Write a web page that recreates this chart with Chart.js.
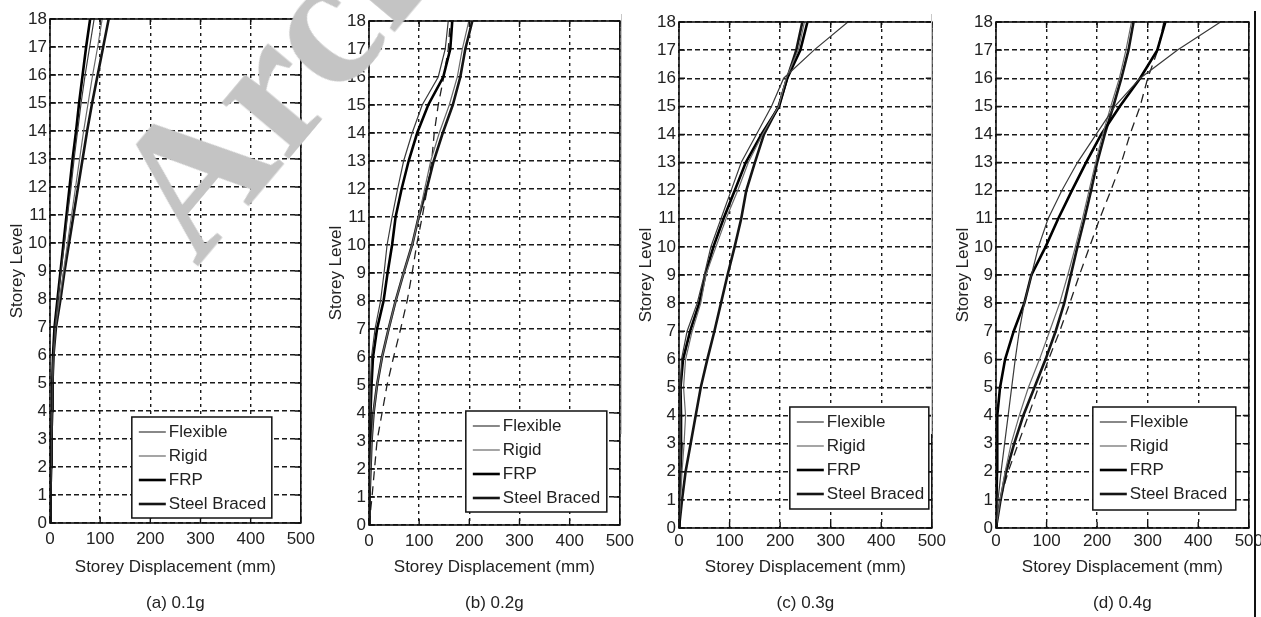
<!DOCTYPE html>
<html>
<head>
<meta charset="utf-8">
<title>Storey displacement</title>
<script src="https://cdn.jsdelivr.net/npm/chart.js@4.4.1/dist/chart.umd.min.js"></script>
<style>
  body { margin: 0; width: 1261px; height: 617px; background: #fff; position: relative; overflow: hidden; }
  canvas { position: absolute; top: 0; }
  .edge { position: absolute; background: #111; }
  .faint { position: absolute; background: #c8c8c8; width: 1px; }
  .stamp {
    position: absolute; left: 221px; top: 98px;
    font: bold 190px "Liberation Serif", "DejaVu Serif", serif;
    line-height: 1; color: #c4c4c4; white-space: nowrap;
    transform-origin: 0 100%; transform: rotate(-50deg);
  }
</style>
</head>
<body>
<canvas id="p0"></canvas>
<canvas id="p1"></canvas>
<canvas id="p2"></canvas>
<canvas id="p3"></canvas>
<div class="faint" style="left:621px; top:14px; height:420px;"></div>
<div class="faint" style="left:931px; top:14px; height:420px;"></div>
<div class="edge" style="left:1254px; top:11px; width:2px; height:606px;"></div>
<div class="stamp">Archive of SID</div>

<script>
// storey levels (y axis)
const storeys = [0, 1, 2, 3, 4, 5, 6, 7, 8, 9, 10, 11, 12, 13, 14, 15, 16, 17, 18];
const seriesNames = ["Flexible", "Rigid", "FRP", "Steel Braced"];
const captions = ["(a) 0.1g", "(b) 0.2g", "(c) 0.3g", "(d) 0.4g"];
const xMax = 500;
const yMax = 18;

// (a) 0.1g  - storey displacement in mm
const flexibleA = [0, 1, 2, 3, 4, 5, 7, 10, 16, 22, 29, 35, 42, 48, 55, 62, 70, 79, 88];
const rigidA    = [0, 1, 2, 3, 4, 5, 7, 11, 19, 27, 35, 43, 51, 59, 67, 76, 85, 95, 104];
const frpA      = [0, 1, 2, 3, 4, 5, 6, 9, 15, 21, 27, 33, 39, 45, 52, 58, 65, 72, 80];
const steelA    = [0, 1, 2, 3, 4, 5, 7, 12, 21, 29, 38, 47, 56, 65, 74, 84, 95, 106, 117];

// (b) 0.2g
const flexibleB = [0, 0, 1, 1, 2, 3, 5, 12, 23, 30, 36, 46, 57, 69, 86, 106, 138, 152, 158];
const rigidB    = [0, 1, 3, 5, 9, 16, 26, 39, 53, 69, 86, 99, 111, 123, 140, 160, 176, 186, 199];
const frpB      = [0, 0, 1, 2, 3, 5, 8, 16, 29, 37, 46, 53, 65, 79, 96, 118, 148, 162, 166];
const steelB    = [0, 1, 3, 5, 9, 16, 26, 39, 53, 69, 86, 99, 115, 129, 147, 167, 182, 192, 206];
const dashedB   = [0, 6, 11, 16, 26, 36, 49, 63, 76, 86, 95, 106, 116, 125, 130, 138, 149, 158, 162];

// (c) 0.3g
const flexibleC = [0, 1, 2, 3, 3, 3, 5, 16, 36, 50, 63, 83, 103, 123, 153, 183, 207, 267, 334];
const rigidC    = [0, 3, 6, 10, 13, 9, 13, 26, 43, 53, 73, 93, 116, 137, 165, 197, 212, 236, 248];
const frpC      = [0, 1, 3, 5, 4, 3, 8, 22, 40, 52, 68, 88, 110, 132, 163, 198, 214, 240, 254];
const steelC    = [0, 6, 13, 23, 33, 43, 56, 70, 83, 96, 110, 123, 133, 150, 168, 197, 214, 232, 244];

// (d) 0.4g
const flexibleD = [0, 4, 10, 17, 24, 31, 38, 46, 56, 70, 84, 103, 130, 161, 198, 235, 285, 359, 444];
const rigidD    = [0, 8, 18, 30, 46, 64, 86, 106, 126, 142, 157, 171, 184, 197, 211, 227, 244, 257, 268];
const frpD      = [0, 1, 2, 2, 3, 8, 18, 35, 56, 70, 98, 123, 150, 178, 208, 245, 285, 319, 335];
const steelD    = [0, 9, 20, 36, 54, 76, 98, 118, 135, 148, 161, 175, 188, 200, 215, 232, 248, 262, 272];
const dashedD   = [0, 8, 24, 44, 64, 84, 104, 126, 146, 165, 185, 205, 227, 248, 265, 285, 300, 320, 332];

const FONT = '"Liberation Sans", Arial, Helvetica, sans-serif';
Chart.defaults.font.family = FONT;
Chart.defaults.font.size = 17;
Chart.defaults.color = "#222";

const seriesStyle = [
    { color: "#3a3a3a", width: 1.2 },
    { color: "#6a6a6a", width: 1.2 },
    { color: "#000000", width: 2.6 },
    { color: "#151515", width: 2.6 }
];

// plot area of each panel, in page pixels, and its legend box
const panels = [
    { series: [flexibleA, rigidA, frpA, steelA], dashed: null,
      area: { left: 50, right: 300, top: 19, bottom: 523 },
      legend: { right: 29, bottom: 5, width: 140, height: 101 } },
    { series: [flexibleB, rigidB, frpB, steelB], dashed: dashedB,
      area: { left: 369, right: 619, top: 21, bottom: 525 },
      legend: { right: 13, bottom: 13, width: 141, height: 101 } },
    { series: [flexibleC, rigidC, frpC, steelC], dashed: null,
      area: { left: 679, right: 928, top: 22, bottom: 528 },
      legend: { right: 3, bottom: 19, width: 139, height: 102 } },
    { series: [flexibleD, rigidD, frpD, steelD], dashed: dashedD,
      area: { left: 996, right: 1245, top: 22, bottom: 528 },
      legend: { right: 13, bottom: 18, width: 143, height: 103 } }
];

function toPoints(values) {
    return values.map((v, i) => ({ x: v, y: storeys[i] }));
}

// box round the plot with small inward ticks (MATLAB look)
const frame = {
    id: "frame",
    afterDatasetsDraw(chart) {
        const { ctx, chartArea: a, scales } = chart;
        ctx.save();
        ctx.strokeStyle = "#111";
        ctx.lineWidth = 1.6;
        ctx.strokeRect(a.left, a.top, a.right - a.left, a.bottom - a.top);
        ctx.lineWidth = 1.4;
        ctx.beginPath();
        scales.x.ticks.forEach(t => {
            const px = scales.x.getPixelForValue(t.value);
            ctx.moveTo(px, a.bottom); ctx.lineTo(px, a.bottom - 6);
            ctx.moveTo(px, a.top); ctx.lineTo(px, a.top + 6);
        });
        scales.y.ticks.forEach(t => {
            const py = scales.y.getPixelForValue(t.value);
            ctx.moveTo(a.left, py); ctx.lineTo(a.left + 6, py);
            ctx.moveTo(a.right, py); ctx.lineTo(a.right - 6, py);
        });
        ctx.stroke();
        ctx.restore();
    }
};

// legend in a framed box inside the plot
const boxLegend = {
    id: "boxLegend",
    afterDatasetsDraw(chart, args, opts) {
        const { ctx, chartArea: a } = chart;
        const b = opts.box;
        const x = a.right - b.right - b.width;
        const y = a.bottom - b.bottom - b.height;
        ctx.save();
        ctx.fillStyle = "#fff";
        ctx.fillRect(x, y, b.width, b.height);
        ctx.lineWidth = 1.5;
        ctx.strokeStyle = "#111";
        ctx.strokeRect(x, y, b.width, b.height);
        ctx.font = "17px " + FONT;
        ctx.textBaseline = "middle";
        const items = chart.data.datasets.filter(ds => seriesNames.includes(ds.label));
        items.forEach((ds, i) => {
            const rowY = y + 15 + i * 24;
            ctx.beginPath();
            ctx.lineWidth = ds.borderWidth;
            ctx.strokeStyle = ds.borderColor;
            ctx.moveTo(x + 7, rowY);
            ctx.lineTo(x + 34, rowY);
            ctx.stroke();
            ctx.fillStyle = "#222";
            ctx.fillText(ds.label, x + 37, rowY);
        });
        ctx.restore();
    }
};

panels.forEach((p, k) => {
    const canvas = document.getElementById("p" + k);
    const leftGap = 50;
    const rightGap = 14;
    // the x axis keeps about 21px on the right for its last label
    canvas.width = p.area.right - p.area.left + leftGap + 21;
    canvas.height = 617;
    canvas.style.left = (p.area.left - leftGap) + "px";

    const xHeight = 567 + 10.2 - p.area.bottom;

    const datasets = p.series.map((values, i) => ({
        label: seriesNames[i],
        data: toPoints(values),
        showLine: true,
        borderColor: seriesStyle[i].color,
        borderWidth: seriesStyle[i].width,
        pointRadius: 0,
        tension: 0,
        fill: false
    }));

    if (p.dashed) {
        datasets.push({
            label: "",
            data: toPoints(p.dashed),
            showLine: true,
            borderColor: "#222",
            borderWidth: 1.3,
            borderDash: [9, 6],
            pointRadius: 0,
            tension: 0,
            fill: false
        });
    }

    new Chart(canvas.getContext("2d"), {
        type: "scatter",
        data: { datasets: datasets },
        options: {
            responsive: false,
            animation: false,
            events: [],
            layout: { padding: { top: p.area.top, right: rightGap, bottom: 0, left: 0 } },
            plugins: {
                legend: { display: false },
                tooltip: { enabled: false },
                title: {
                    display: true,
                    position: "bottom",
                    fullSize: false,
                    text: captions[k],
                    color: "#222",
                    font: { size: 17, weight: "normal" },
                    padding: { top: 15.6, bottom: 3.8 }
                },
                boxLegend: { box: p.legend }
            },
            scales: {
                x: {
                    type: "linear",
                    min: 0,
                    max: xMax,
                    ticks: { stepSize: 100, autoSkip: false, maxRotation: 0, padding: p.area.bottom < 526 ? 6 : 3, color: "#222" },
                    grid: { color: "#1a1a1a", lineWidth: 1.4, drawTicks: false },
                    border: { display: false, dash: [3, 4] },
                    title: { display: true, text: "Storey Displacement (mm)", color: "#222", padding: { top: 0, bottom: 0 } },
                    afterFit: s => { s.height = xHeight; }
                },
                y: {
                    type: "linear",
                    min: 0,
                    max: yMax,
                    ticks: { stepSize: 1, autoSkip: false, padding: 3, color: "#222" },
                    grid: { color: "#1a1a1a", lineWidth: 1.4, drawTicks: false },
                    border: { display: false, dash: [5, 3] },
                    title: { display: true, text: "Storey Level", color: "#222", padding: { top: 6.8, bottom: 0 } },
                    afterFit: s => { s.width = leftGap; }
                }
            }
        },
        plugins: [frame, boxLegend]
    });
});
</script>
</body>
</html>
